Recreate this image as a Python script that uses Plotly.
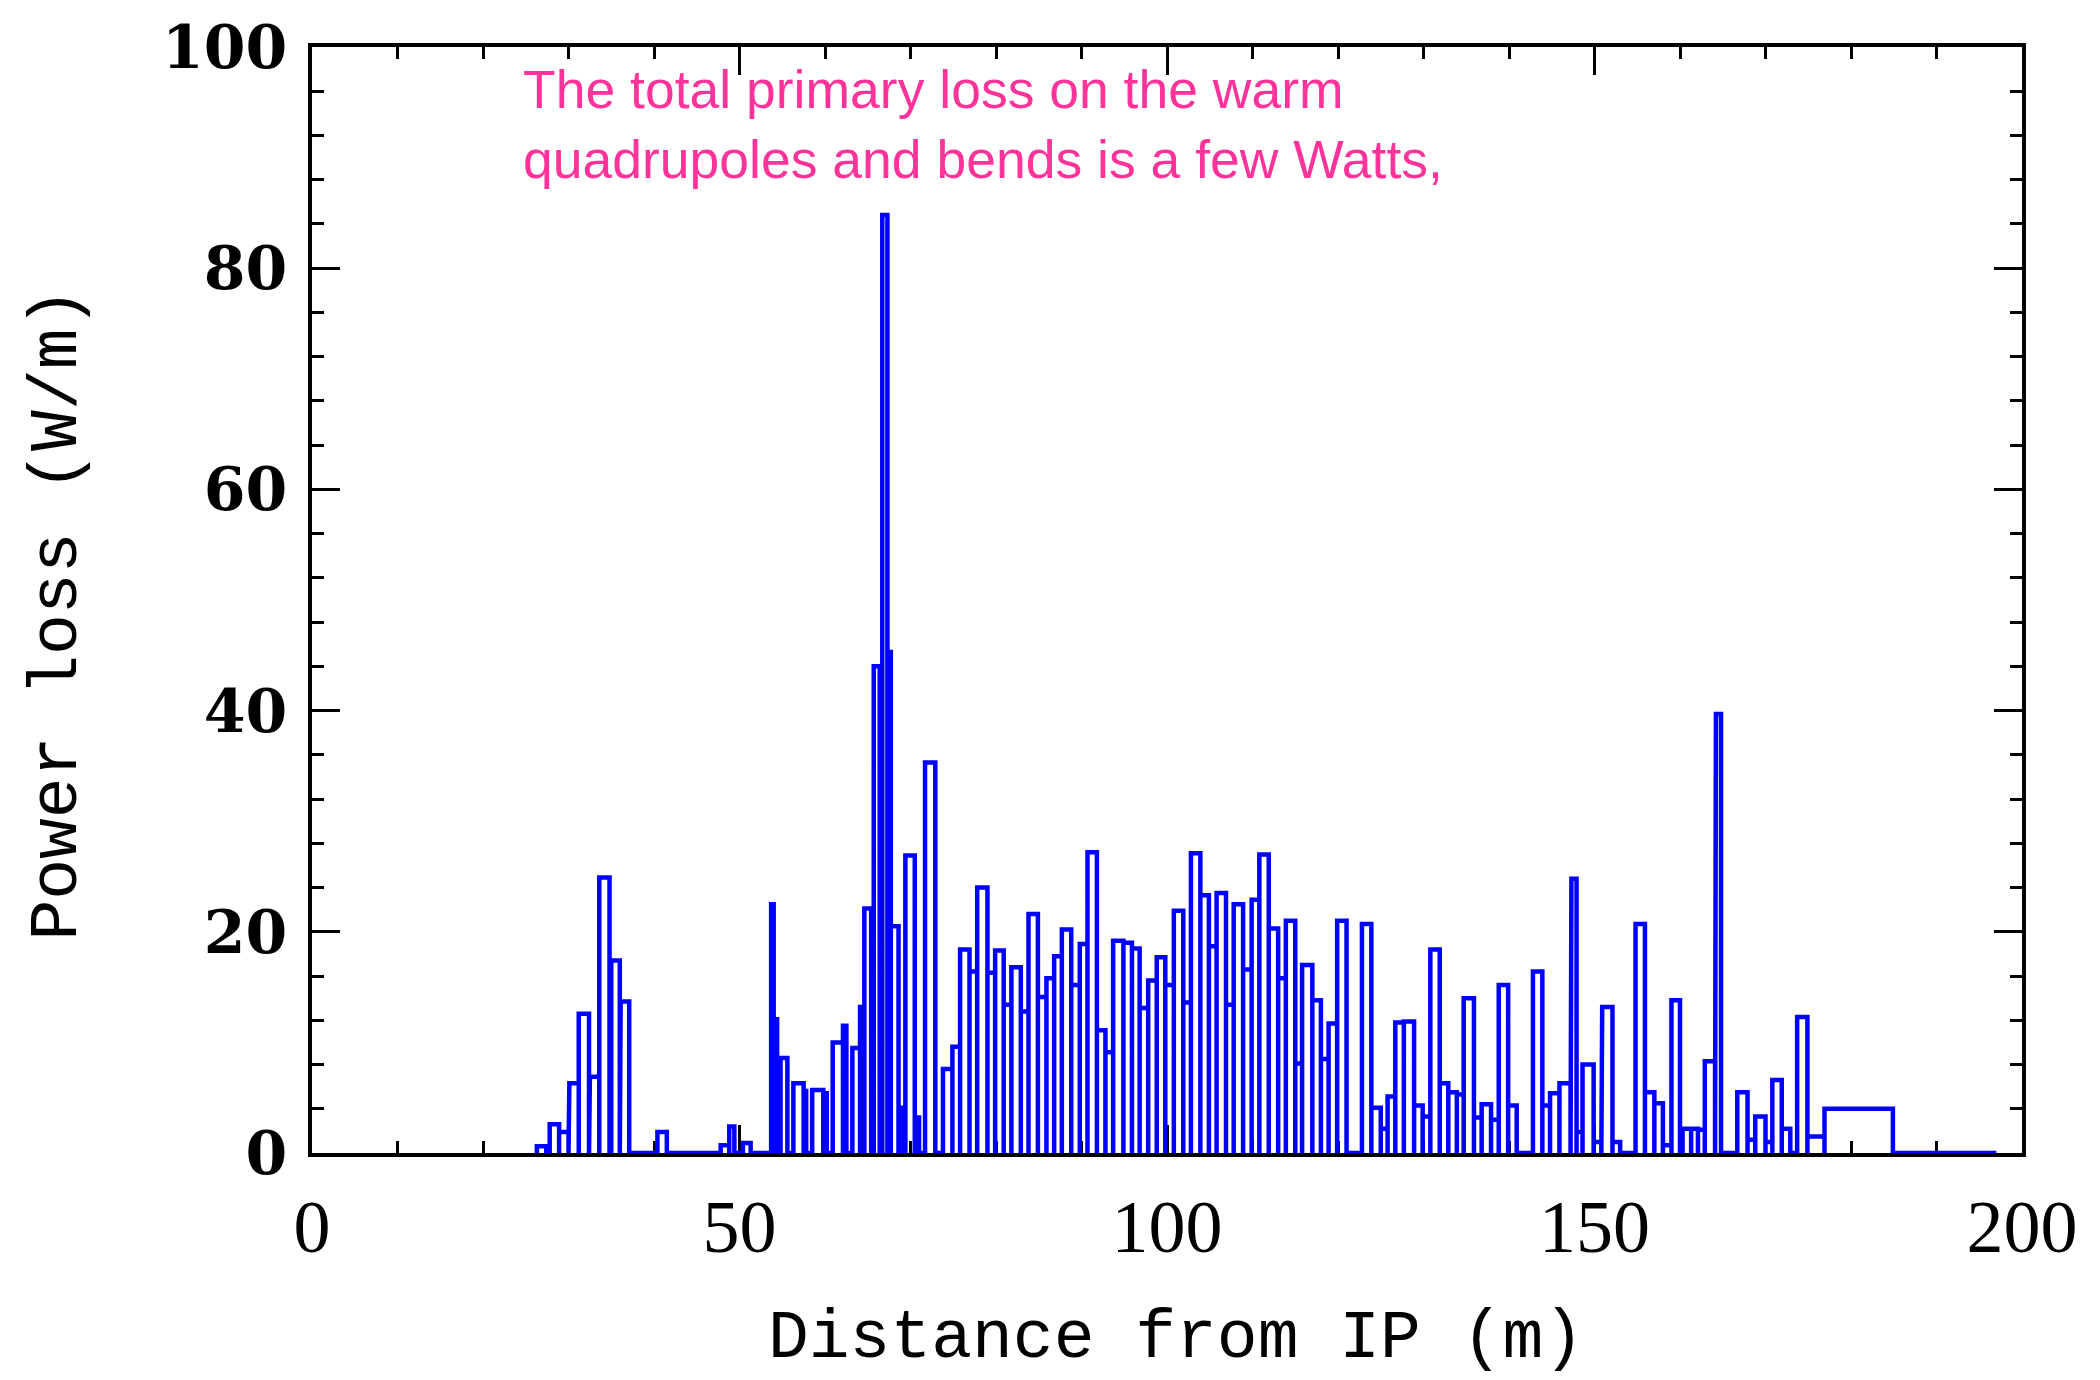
import plotly.graph_objects as go

# Beam-loss histogram: each bin is [lo, hi] along the beamline (m) with a power loss (W/m)
bin_lo = [26.3, 27.8, 28.9, 30.1, 31.2, 32.5, 33.6, 35.0, 36.1, 40.4,
          47.8, 48.8, 50.4, 53.7, 54.0, 54.5, 54.8, 56.3, 57.5, 58.5,
          59.8, 60.9, 62.1, 63.2, 64.1, 64.6, 65.4, 65.7, 66.7, 67.3,
          67.7, 68.6, 69.4, 70.5, 71.7, 73.8, 74.9, 75.8, 76.9, 77.8,
          79.0, 79.9, 80.9, 81.8, 82.9, 83.8, 84.9, 85.9, 86.8, 87.7,
          88.8, 89.8, 90.7, 91.8, 92.8, 93.7, 94.9, 95.9, 96.8, 97.8,
          98.8, 99.8, 100.8, 101.9, 102.8, 103.9, 104.9, 105.8, 106.9, 107.8,
          108.9, 109.9, 110.8, 111.9, 113.0, 113.9, 115.0, 115.8, 117.0, 118.0,
          118.9, 119.9, 122.8, 123.9, 125.0, 125.8, 126.7, 127.7, 128.9, 129.9,
          130.8, 131.9, 132.9, 133.9, 134.7, 135.9, 136.8, 137.9, 138.8, 139.9,
          142.8, 143.9, 144.8, 145.9, 147.3, 147.9, 148.6, 149.9, 150.9, 152.1,
          154.8, 155.9, 157.0, 158.0, 159.0, 160.0, 160.3, 161.3, 162.1, 162.9,
          164.2, 166.7, 167.9, 168.8, 170.0, 170.8, 171.9, 173.7, 174.9, 176.9,
          184.9]
bin_hi = [27.4, 28.9, 30.0, 31.2, 32.4, 33.6, 34.8, 36.0, 37.1, 41.5,
          48.8, 49.4, 51.3, 54.0, 54.4, 54.8, 55.6, 57.5, 57.8, 59.8,
          60.2, 62.1, 62.5, 64.1, 64.6, 65.4, 65.7, 66.4, 67.3, 67.7,
          68.6, 68.9, 70.5, 71.0, 72.9, 74.9, 75.8, 76.9, 77.8, 79.0,
          79.9, 80.9, 81.8, 82.9, 83.8, 84.9, 85.9, 86.8, 87.7, 88.8,
          89.8, 90.7, 91.8, 92.8, 93.7, 94.9, 95.9, 96.8, 97.8, 98.8,
          99.8, 100.8, 101.9, 102.8, 103.9, 104.9, 105.8, 106.9, 107.8, 108.9,
          109.9, 110.8, 111.9, 113.0, 113.9, 115.0, 115.8, 117.0, 118.0, 118.9,
          119.9, 121.0, 123.9, 125.0, 125.8, 126.7, 127.7, 128.9, 129.9, 130.8,
          131.9, 132.9, 133.9, 134.7, 135.9, 136.8, 137.9, 138.8, 139.9, 140.9,
          143.9, 144.8, 145.9, 147.2, 147.9, 148.6, 149.9, 150.8, 152.1, 153.0,
          155.9, 157.0, 158.0, 159.0, 160.0, 160.3, 161.3, 162.1, 162.9, 164.1,
          164.8, 167.9, 168.8, 170.0, 170.8, 171.9, 172.9, 174.9, 176.9, 184.9,
          197.0]
power = [0.6, 2.6, 1.9, 6.3, 12.6, 6.9, 24.9, 17.4, 13.7, 1.9,
         0.7, 2.4, 0.9, 22.5, 12.1, 4.3, 8.6, 6.3, 5.6, 5.7,
         5.4, 10.0, 11.5, 9.5, 13.2, 22.1, 8.9, 44.0, 84.8, 45.3,
         20.5, 4.1, 26.9, 3.2, 35.3, 7.6, 9.6, 18.4, 16.4, 24.0,
         16.3, 18.3, 13.4, 16.8, 12.8, 21.6, 14.1, 15.8, 17.8, 20.2,
         15.2, 18.9, 27.2, 11.1, 9.1, 19.2, 19.0, 18.5, 13.1, 15.6,
         17.7, 15.2, 21.9, 13.6, 27.1, 23.3, 18.7, 23.5, 13.4, 22.5,
         16.6, 22.9, 27.0, 20.3, 15.8, 21.0, 8.1, 17.0, 13.8, 8.5,
         11.7, 21.0, 20.7, 4.1, 2.2, 5.1, 11.8, 11.9, 4.3, 3.3,
         18.4, 6.3, 5.5, 5.3, 14.0, 3.2, 4.4, 3.0, 15.2, 4.3,
         16.4, 4.3, 5.4, 6.3, 24.8, 1.9, 8.0, 1.0, 13.2, 1.0,
         20.7, 5.5, 4.5, 0.7, 13.8, 0.7, 2.2, 2.2, 2.1, 8.3,
         39.7, 5.5, 1.2, 3.3, 1.0, 6.6, 2.2, 12.3, 1.5, 4.0,
         0.0]

note_lines = ["The total primary loss on the warm",
              "quadrupoles and bends is a few Watts,"]

# outline every bin as its own box, joined along the baseline
xs, ys = [], []
for lo, hi, p in zip(bin_lo, bin_hi, power):
    xs += [lo, lo, hi, hi]
    ys += [0, p, p, 0]

fig = go.Figure(go.Scatter(
    x=xs, y=ys, mode="lines",
    line=dict(color="#0000ff", width=4.5),
    cliponaxis=False, showlegend=False, hoverinfo="skip",
))

common = dict(
    showline=True, linewidth=3.5, linecolor="black", mirror="allticks",
    ticks="inside", ticklen=28, tickwidth=3, tickcolor="black",
    showgrid=False, zeroline=False, layer="below traces",
)

fig.update_xaxes(range=[0, 200], tickmode="linear", tick0=0, dtick=50,
                 minor=dict(tick0=0, dtick=10, ticks="inside", ticklen=12,
                            tickwidth=3, tickcolor="black"),
                 tickfont=dict(family="Liberation Serif", size=74, color="black"),
                 ticklabelstandoff=6, **common)
fig.update_yaxes(range=[0, 100], tickmode="linear", tick0=0, dtick=20,
                 minor=dict(tick0=0, dtick=4, ticks="inside", ticklen=12,
                            tickwidth=3, tickcolor="black"),
                 tickfont=dict(family="DejaVu Serif", size=60, color="black",
                               weight="bold"),
                 ticklabelstandoff=9, **common)

title_font = dict(family="Liberation Mono", size=68, color="black")
fig.add_annotation(text="Distance from IP (m)", xref="paper", yref="paper",
                   x=0.505, y=-0.168, xanchor="center", yanchor="middle",
                   showarrow=False, font=title_font)
fig.add_annotation(text="Power loss (W/m)", xref="paper", yref="paper",
                   x=-0.149, y=0.487, xanchor="center", yanchor="middle",
                   textangle=-90, showarrow=False, font=title_font)

fig.add_annotation(text="<br>".join(note_lines), xref="x", yref="y",
                   x=24.4, y=99.0, xanchor="left", yanchor="top", align="left",
                   showarrow=False,
                   font=dict(family="Liberation Sans", size=53.5, color="#ff3399"))

fig.update_layout(
    width=2100, height=1380,
    margin=dict(l=312, r=78, t=35, b=227),
    paper_bgcolor="white", plot_bgcolor="white",
)

fig.write_html("out.html")
